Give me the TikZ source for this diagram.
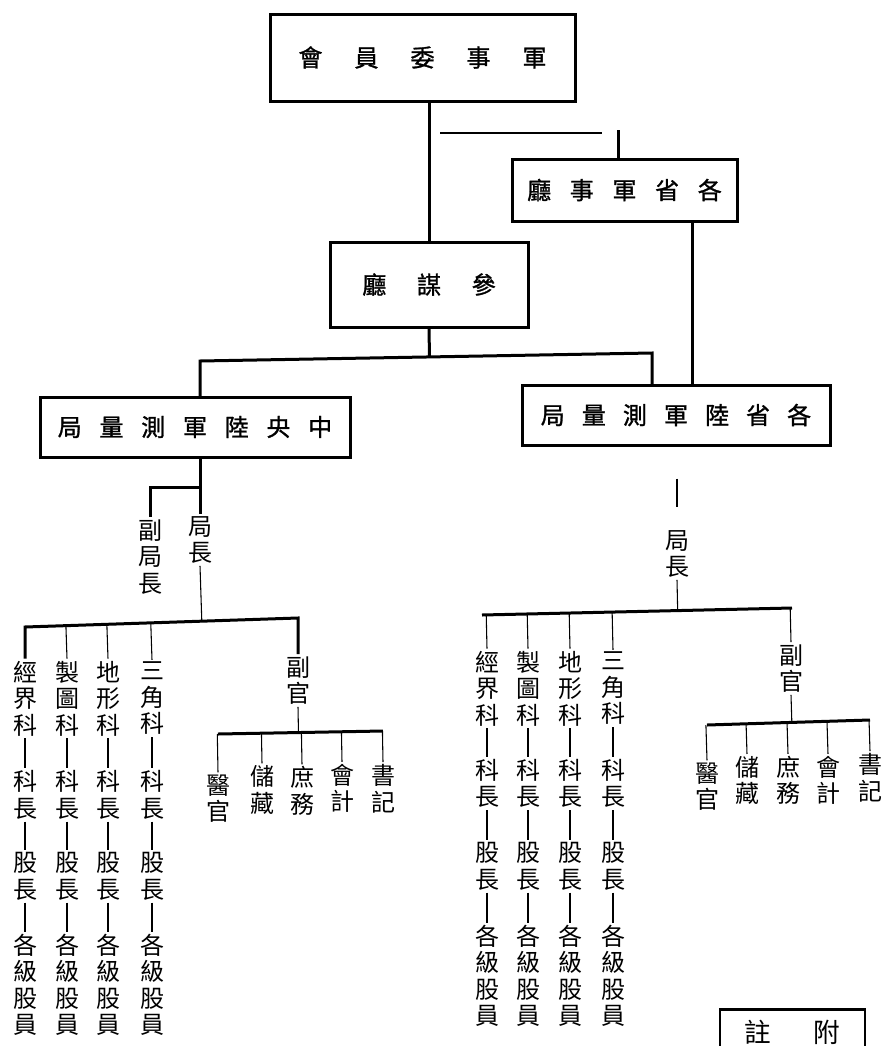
\documentclass[tikz,border=0pt]{standalone}
\usepackage{fontspec}
\newfontfamily\cjk{Noto Sans CJK TC}
\newfontfamily\cjkb{Noto Sans CJK TC}[FakeBold=1.2]
\usetikzlibrary{calc}
\begin{document}
\begin{tikzpicture}[x=0.75pt,y=-0.75pt,
  box/.style={draw,line width=2.25pt,inner sep=0pt,font=\cjkb\fontsize{18pt}{20pt}\selectfont},
  col/.style={inner sep=1.5pt,align=center,font=\cjk\fontsize{18pt}{19.875pt}\selectfont},
  thickline/.style={line width=2.25pt},
  midline/.style={line width=1.3pt},
  thinline/.style={line width=0.8pt},
]
\useasboundingbox (0,0) rectangle (888,1046);
\clip (0,0) rectangle (888,1046);

% ---------- boxes ----------
\node[box,minimum width=228.75pt,minimum height=65.25pt] (jun) at (422.5,57.5)
  {會\hspace{24pt}員\hspace{24pt}委\hspace{24pt}事\hspace{24pt}軍};
\node[box,minimum width=168.75pt,minimum height=46.5pt] (sheng) at (624.5,190)
  {廳\hspace{14pt}事\hspace{14pt}軍\hspace{14pt}省\hspace{14pt}各};
\node[box,minimum width=148.5pt,minimum height=63.75pt] (can) at (429,284.5)
  {廳\hspace{23pt}謀\hspace{23pt}參};
\node[box,minimum width=232.5pt,minimum height=45pt] (zy) at (195,427)
  {局\hspace{13.3pt}量\hspace{13.3pt}測\hspace{13.3pt}軍\hspace{13.3pt}陸\hspace{13.3pt}央\hspace{13.3pt}中};
\node[box,minimum width=231pt,minimum height=45pt] (gsl) at (676,415)
  {局\hspace{12.8pt}量\hspace{12.8pt}測\hspace{12.8pt}軍\hspace{12.8pt}陸\hspace{12.8pt}省\hspace{12.8pt}各};
\node[draw,line width=2pt,anchor=north,minimum width=108.75pt,inner ysep=8pt,
      text height=16.5pt,text depth=40pt,font=\cjk\fontsize{20pt}{22pt}\selectfont] (fz) at (792.5,1008)
  {註\hspace{32pt}附};

% ---------- top connectors ----------
\draw[thickline] (jun.south -| can.north) -- (can.north);
\coordinate (h1) at (440,133);
\coordinate (h2) at (602,133);
\draw[midline] (h1) -- (h2);
\coordinate (v1) at (618,130);
\draw[thickline] (v1) -- (v1 |- sheng.north);
\coordinate (v2) at (692,0);
\draw[thickline] (v2 |- sheng.south) -- (v2 |- gsl.north);
\coordinate (b1L) at (200,361);
\coordinate (b1R) at (652,353);
\draw[thickline] (can.south) -- ($(b1L)!(can.south)!(b1R)$);
\draw[thickline,line cap=rect] (b1L |- zy.north) -- (b1L) -- (b1R) -- (b1R |- gsl.north);

% ---------- left tree ----------
\node[col] (ljz) at (200,540) {局\\長};
\node[col] (lfj) at (150,557) {副\\局\\長};
\draw[thickline] (zy.south -| ljz) -- (ljz.north);
\coordinate (y487) at (0,487);
\coordinate (lj) at (ljz |- y487);
\draw[thickline] (lj) -| (lfj.north);

% columns
\node[col] (l1a) at (25,698.5) {經\\界\\科};
\node[col] (l1b) at (25,795) {科\\長};
\node[col] (l1c) at (25,876.5) {股\\長};
\node[col] (l1d) at (25,985) {各\\級\\股\\員};
\node[col] (l2a) at (67,698.5) {製\\圖\\科};
\node[col] (l2b) at (67,795) {科\\長};
\node[col] (l2c) at (67,876.5) {股\\長};
\node[col] (l2d) at (67,985) {各\\級\\股\\員};
\node[col] (l3a) at (108,698.5) {地\\形\\科};
\node[col] (l3b) at (108,795) {科\\長};
\node[col] (l3c) at (108,876.5) {股\\長};
\node[col] (l3d) at (108,985) {各\\級\\股\\員};
\node[col] (l4a) at (152,698.5) {三\\角\\科};
\node[col] (l4b) at (152,795) {科\\長};
\node[col] (l4c) at (152,876.5) {股\\長};
\node[col] (l4d) at (152,985) {各\\級\\股\\員};
\node[col] (lfg) at (298,680.5) {副\\官};

\coordinate (y627) at (0,627);
\coordinate (lbL) at (l1a.north |- y627);
\coordinate (lbR) at (298,618);
\draw[thinline] (ljz.south) -- ($(lbL)!(ljz.south)!(lbR)$);
\draw[thickline] (l1a.north) -- (lbL) -- (lbR) -- (lfg.north);
\foreach \c in {l2a,l3a,l4a}
  \draw[thinline] ($(lbL)!(\c.north)!(lbR)$) -- (\c.north);
\foreach \k in {1,2,3,4}{
  \draw[thinline] (l\k a) -- (l\k b);
  \draw[thinline] (l\k b) -- (l\k c);
  \draw[thinline] (l\k c) -- (l\k d);
}

% left staff
\node[col] (ly1) at (218,798.5) {醫\\官};
\node[col] (ly2) at (262,790) {儲\\藏};
\node[col] (ly3) at (302,791) {庶\\務};
\node[col] (ly4) at (342,788.5) {會\\計};
\node[col] (ly5) at (383,788.5) {書\\記};
\coordinate (lsL) at (218,734);
\coordinate (lsR) at (383,731);
\draw[thinline] (lfg.south) -- ($(lsL)!(lfg.south)!(lsR)$);
\draw[thickline] (lsL) -- (lsR);
\foreach \c in {ly1,ly2,ly3,ly4,ly5}
  \draw[thinline] ($(lsL)!(\c.north)!(lsR)$) -- (\c.north);

% ---------- right tree ----------
\node[col] (rjz) at (677,554) {局\\長};
\draw[thinline,shorten <=24pt,shorten >=16pt] (gsl.south -| rjz) -- (rjz.north);

\node[col] (r1a) at (487,688.5) {經\\界\\科};
\node[col] (r1b) at (487,783.5) {科\\長};
\node[col] (r1c) at (487,866.5) {股\\長};
\node[col] (r1d) at (487,976) {各\\級\\股\\員};
\node[col] (r2a) at (528,688.5) {製\\圖\\科};
\node[col] (r2b) at (528,783.5) {科\\長};
\node[col] (r2c) at (528,866.5) {股\\長};
\node[col] (r2d) at (528,976) {各\\級\\股\\員};
\node[col] (r3a) at (570,688.5) {地\\形\\科};
\node[col] (r3b) at (570,783.5) {科\\長};
\node[col] (r3c) at (570,866.5) {股\\長};
\node[col] (r3d) at (570,976) {各\\級\\股\\員};
\node[col] (r4a) at (613,688.5) {三\\角\\科};
\node[col] (r4b) at (613,783.5) {科\\長};
\node[col] (r4c) at (613,866.5) {股\\長};
\node[col] (r4d) at (613,976) {各\\級\\股\\員};
\node[col] (rfg) at (791,668.5) {副\\官};

\coordinate (rbL) at (482,615);
\coordinate (rbR) at (792,608);
\draw[thinline] (rjz.south) -- ($(rbL)!(rjz.south)!(rbR)$);
\draw[thickline] (rbL) -- (rbR);
\foreach \c in {r1a,r2a,r3a,r4a,rfg}
  \draw[thinline] ($(rbL)!(\c.north)!(rbR)$) -- (\c.north);
\foreach \k in {1,2,3,4}{
  \draw[thinline] (r\k a) -- (r\k b);
  \draw[thinline] (r\k b) -- (r\k c);
  \draw[thinline] (r\k c) -- (r\k d);
}

% right staff
\node[col] (ry1) at (707,786.5) {醫\\官};
\node[col] (ry2) at (747,780.5) {儲\\藏};
\node[col] (ry3) at (788,780.5) {庶\\務};
\node[col] (ry4) at (828,780.5) {會\\計};
\node[col] (ry5) at (870,777.5) {書\\記};
\coordinate (rsL) at (707,725);
\coordinate (rsR) at (870,720);
\draw[thinline] (rfg.south) -- ($(rsL)!(rfg.south)!(rsR)$);
\draw[thickline] (rsL) -- (rsR);
\foreach \c in {ry1,ry2,ry3,ry4,ry5}
  \draw[thinline] ($(rsL)!(\c.north)!(rsR)$) -- (\c.north);
\end{tikzpicture}
\end{document}
